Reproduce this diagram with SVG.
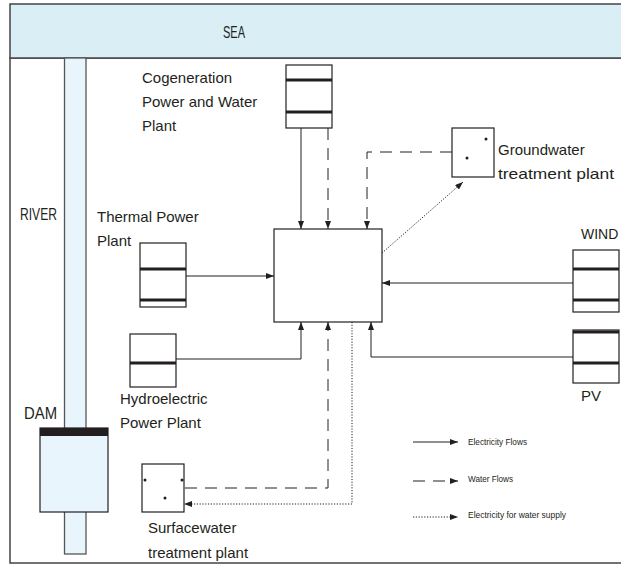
<svg xmlns="http://www.w3.org/2000/svg" width="621" height="567" viewBox="0 0 621 567">
<defs>
<style>
text{font-family:"Liberation Sans",Arial,sans-serif;fill:#231f20;}
.lbl{font-size:15px;}
.leg{font-size:9.5px;}
.box{fill:#fff;stroke:#231f20;stroke-width:1.2;}
.bar{stroke:#231f20;stroke-width:3;}
.dot{fill:#231f20;}
.c{fill:none;stroke:#231f20;stroke-width:1;}
.d{stroke-dasharray:12 8;}
.o{stroke-dasharray:1.2 1.6;}
</style>
<marker id="ah" viewBox="0 0 8 6" refX="8" refY="3" markerWidth="8" markerHeight="6" orient="auto" markerUnits="userSpaceOnUse">
<path d="M0,0 L8,3 L0,6 z" fill="#231f20"/>
</marker>
</defs>
<rect width="621" height="567" fill="#fff"/>

<g id="frame">
<rect x="10" y="58" width="640" height="505" fill="#fff" stroke="#444" stroke-width="1.5"/>
</g>
<g id="sea">
<rect x="10" y="4" width="640" height="54" fill="#d9eff5" stroke="#444" stroke-width="1.5"/>
<text x="223" y="38" class="lbl" style="font-size:17px" textLength="22" lengthAdjust="spacingAndGlyphs">SEA</text>
</g>
<g id="river">
<rect x="64.5" y="58" width="21.5" height="496" fill="#e9f5fc" stroke="#555" stroke-width="1.3"/>
<text x="20" y="220" class="lbl" style="font-size:16px" textLength="37" lengthAdjust="spacingAndGlyphs">RIVER</text>
</g>
<g id="dam">
<rect x="40" y="428" width="68" height="84" fill="#e9f5fc" stroke="#231f20" stroke-width="1.2"/>
<rect x="40" y="428" width="68" height="8" fill="#231f20"/>
<text x="24" y="419" class="lbl" style="font-size:16px" textLength="33" lengthAdjust="spacingAndGlyphs">DAM</text>
</g>

<g id="cogeneration">
<rect x="286" y="65" width="46" height="63" class="box"/>
<line x1="286" y1="80" x2="332" y2="80" class="bar"/>
<line x1="286" y1="112" x2="332" y2="112" class="bar"/>
<text x="142" y="83" class="lbl">Cogeneration</text>
<text x="142" y="107" class="lbl">Power and Water</text>
<text x="142" y="131" class="lbl">Plant</text>
</g>

<g id="groundwater">
<rect x="452" y="128" width="42" height="49" class="box"/>
<circle cx="486" cy="139" r="1.5" class="dot"/>
<circle cx="467" cy="158" r="1.5" class="dot"/>
<text x="498" y="155" class="lbl">Groundwater</text>
<text x="498" y="179" class="lbl" textLength="116" lengthAdjust="spacingAndGlyphs">treatment plant</text>
</g>

<g id="hub">
<rect x="274" y="229" width="108" height="93" class="box"/>
</g>

<g id="thermal">
<rect x="140" y="243" width="46" height="64" class="box"/>
<line x1="140" y1="269" x2="186" y2="269" class="bar"/>
<line x1="140" y1="300" x2="186" y2="300" class="bar"/>
<text x="97" y="222" class="lbl">Thermal Power</text>
<text x="97" y="246" class="lbl">Plant</text>
</g>

<g id="wind">
<rect x="573" y="250" width="46" height="62" class="box"/>
<line x1="573" y1="269" x2="619" y2="269" class="bar"/>
<line x1="573" y1="300" x2="619" y2="300" class="bar"/>
<text x="581" y="239" class="lbl" style="font-size:14px">WIND</text>
</g>

<g id="pv">
<rect x="573" y="330" width="46" height="53" class="box"/>
<line x1="573" y1="332" x2="619" y2="332" class="bar"/>
<line x1="573" y1="363" x2="619" y2="363" class="bar"/>
<text x="581" y="401" class="lbl">PV</text>
</g>

<g id="hydro">
<rect x="130" y="334" width="46" height="53" class="box"/>
<line x1="130" y1="363" x2="176" y2="363" class="bar"/>
<text x="120" y="404" class="lbl">Hydroelectric</text>
<text x="120" y="428" class="lbl">Power Plant</text>
</g>

<g id="surfacewater">
<rect x="142" y="464" width="42" height="48" class="box"/>
<circle cx="145" cy="480" r="1.5" class="dot"/>
<circle cx="182" cy="480" r="1.5" class="dot"/>
<circle cx="165" cy="498" r="1.5" class="dot"/>
<text x="148" y="533" class="lbl">Surfacewater</text>
<text x="148" y="558" class="lbl">treatment plant</text>
</g>

<g id="connectors">
<path d="M301,128 V229" class="c" marker-end="url(#ah)"/>
<path d="M328,128 V229" class="c d" marker-end="url(#ah)"/>
<path d="M452,152 H367 V229" class="c d" marker-end="url(#ah)"/>
<path d="M382,253 L463,182" class="c o" marker-end="url(#ah)"/>
<path d="M186,276 H274" class="c" marker-end="url(#ah)"/>
<path d="M573,283 H382" class="c" marker-end="url(#ah)"/>
<path d="M573,357 H371 V322" class="c" marker-end="url(#ah)"/>
<path d="M176,359 H301 V322" class="c" marker-end="url(#ah)"/>
<path d="M185,488 H328 V322" class="c d" marker-end="url(#ah)"/>
<path d="M352,322 V504 H184" class="c o" marker-end="url(#ah)"/>
</g>

<g id="legend">
<path d="M413,442 H458" class="c" marker-end="url(#ah)"/>
<text x="468" y="445" class="leg" textLength="59" lengthAdjust="spacingAndGlyphs">Electricity Flows</text>
<path d="M413,481 H458" class="c d" marker-end="url(#ah)"/>
<text x="468" y="482" class="leg" textLength="45" lengthAdjust="spacingAndGlyphs">Water Flows</text>
<path d="M413,517 H458" class="c o" marker-end="url(#ah)"/>
<text x="468" y="518" class="leg" textLength="98" lengthAdjust="spacingAndGlyphs">Electricity for water supply</text>
</g>
</svg>
